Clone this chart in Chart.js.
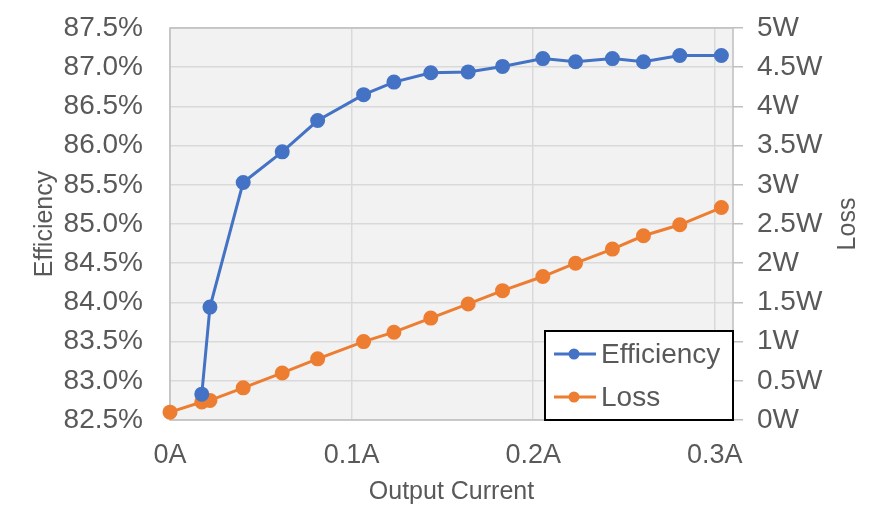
<!DOCTYPE html>
<html>
<head>
<meta charset="utf-8">
<script src="https://cdn.jsdelivr.net/npm/chart.js@4"></script>
<style>
  html, body { margin: 0; padding: 0; background: #fff; }
  #wrap { width: 886px; height: 532px; }
</style>
</head>
<body>
<div id="wrap"><canvas id="chart"></canvas></div>
<script>
// values
const current = [0, 0.0175, 0.022, 0.0403, 0.0618, 0.0813, 0.1066, 0.1233, 0.1436, 0.1642, 0.1831, 0.2053, 0.2233, 0.2436, 0.2607, 0.2807, 0.3036];
const efficiency = [null, 82.83, 83.94, 85.53, 85.92, 86.32, 86.65, 86.81, 86.93, 86.94, 87.01, 87.11, 87.07, 87.11, 87.07, 87.15, 87.15];
const loss = [0.10, 0.23, 0.25, 0.41, 0.60, 0.78, 1.00, 1.12, 1.30, 1.48, 1.65, 1.83, 2.00, 2.18, 2.35, 2.49, 2.71];
const xTicks = [0, 0.1, 0.2, 0.3];
const seriesNames = ["Efficiency", "Loss"];
const seriesColors = ["#4472c4", "#ed7d31"];

const FONT = "'Liberation Sans', Arial, sans-serif";
const TEXT = "#595959";

const toPoints = (ys) => current.map((x, i) => ({ x: x, y: ys[i] })).filter((p) => p.y !== null);

// fixed axis box sizes so the plot area lands where the original has it
const fixWidth = (w) => (s) => {
  s.width = w;
  s.paddingTop = 0;
  s.paddingBottom = 0;
};

// grey plot area + border
const plotArea = {
  id: "plotArea",
  beforeDraw(chart) {
    const { ctx, chartArea: a } = chart;
    ctx.save();
    ctx.fillStyle = "#f2f2f2";
    ctx.fillRect(a.left, a.top, a.right - a.left, a.bottom - a.top);
    ctx.restore();
  },
  beforeDatasetsDraw(chart) {
    const { ctx, chartArea: a } = chart;
    ctx.save();
    ctx.strokeStyle = "#bfbfbf";
    ctx.lineWidth = 1.5;
    ctx.strokeRect(a.left, a.top, a.right - a.left, a.bottom - a.top);
    ctx.restore();
  }
};

// right axis title reads bottom-to-top like the left one (Chart.js turns it the other way)
const lossTitle = {
  id: "lossTitle",
  afterDraw(chart) {
    const { ctx, chartArea: a } = chart;
    ctx.save();
    ctx.translate(a.right + 115, (a.top + a.bottom) / 2);
    ctx.rotate(-Math.PI / 2);
    ctx.font = "25px " + FONT;
    ctx.fillStyle = TEXT;
    ctx.textAlign = "center";
    ctx.textBaseline = "middle";
    ctx.fillText("Loss", 0, 0);
    ctx.restore();
  }
};

// legend box sitting in the lower right corner of the plot
const boxLegend = {
  id: "boxLegend",
  afterDraw(chart) {
    const { ctx, chartArea: a } = chart;
    const w = 188, h = 89;
    const x0 = a.right - w, y0 = a.bottom - h;
    ctx.save();
    ctx.fillStyle = "#fff";
    ctx.fillRect(x0, y0, w, h);
    ctx.strokeStyle = "#000";
    ctx.lineWidth = 2;
    ctx.strokeRect(x0, y0, w, h);
    ctx.font = "28px " + FONT;
    ctx.textBaseline = "middle";
    seriesNames.forEach((name, i) => {
      const y = y0 + 23 + i * 43;
      ctx.strokeStyle = seriesColors[i];
      ctx.lineWidth = 3;
      ctx.beginPath();
      ctx.moveTo(x0 + 9, y);
      ctx.lineTo(x0 + 51, y);
      ctx.stroke();
      ctx.fillStyle = seriesColors[i];
      ctx.beginPath();
      ctx.arc(x0 + 29, y, 5.5, 0, Math.PI * 2);
      ctx.fill();
      ctx.fillStyle = TEXT;
      ctx.fillText(name, x0 + 56, y + 1);
    });
    ctx.restore();
  }
};

new Chart(document.getElementById("chart"), {
  type: "line",
  data: {
    datasets: [
      {
        label: seriesNames[0],
        data: toPoints(efficiency),
        yAxisID: "yEff",
        borderColor: seriesColors[0],
        backgroundColor: seriesColors[0],
        borderWidth: 3,
        pointRadius: 6,
        pointHoverRadius: 6,
        tension: 0,
        clip: 10
      },
      {
        label: seriesNames[1],
        data: toPoints(loss),
        yAxisID: "yLoss",
        borderColor: seriesColors[1],
        backgroundColor: seriesColors[1],
        borderWidth: 3,
        pointRadius: 6,
        pointHoverRadius: 6,
        tension: 0,
        clip: 10
      }
    ]
  },
  options: {
    responsive: true,
    maintainAspectRatio: false,
    animation: false,
    layout: { padding: { top: 28, left: 0, right: 0, bottom: 0 } },
    plugins: {
      legend: { display: false },
      tooltip: { enabled: false }
    },
    scales: {
      x: {
        type: "linear",
        min: 0,
        max: 0.31,
        afterFit: (s) => { s.height = 112; },
        afterBuildTicks: (s) => { s.ticks = xTicks.map((v) => ({ value: v })); },
        ticks: {
          color: TEXT,
          font: { family: FONT, size: 27 },
          padding: 19,
          maxRotation: 0,
          callback: (v) => v + "A"
        },
        grid: { color: "#d9d9d9", lineWidth: 1.5, drawTicks: false },
        border: { display: false },
        title: {
          display: true,
          text: "Output Current",
          color: TEXT,
          font: { family: FONT, size: 25 },
          padding: { top: 0, bottom: 25 }
        }
      },
      yEff: {
        position: "left",
        min: 82.5,
        max: 87.5,
        afterFit: fixWidth(170),
        ticks: {
          stepSize: 0.5,
          color: TEXT,
          font: { family: FONT, size: 28 },
          padding: 27,
          callback: (v) => v.toFixed(1) + "%"
        },
        grid: { color: "#d9d9d9", lineWidth: 1.5, drawTicks: false },
        border: { display: false },
        title: {
          display: true,
          text: "Efficiency",
          color: TEXT,
          font: { family: FONT, size: 25 },
          padding: { top: 30, bottom: 0 }
        }
      },
      yLoss: {
        position: "right",
        min: 0,
        max: 5,
        afterFit: fixWidth(153),
        ticks: {
          stepSize: 0.5,
          color: TEXT,
          font: { family: FONT, size: 28 },
          padding: 14,
          callback: (v) => v + "W"
        },
        grid: { drawOnChartArea: false, color: "#bfbfbf", lineWidth: 1.5, tickLength: 10 },
        border: { display: false }
      }
    }
  },
  plugins: [plotArea, lossTitle, boxLegend]
});
</script>
</body>
</html>
